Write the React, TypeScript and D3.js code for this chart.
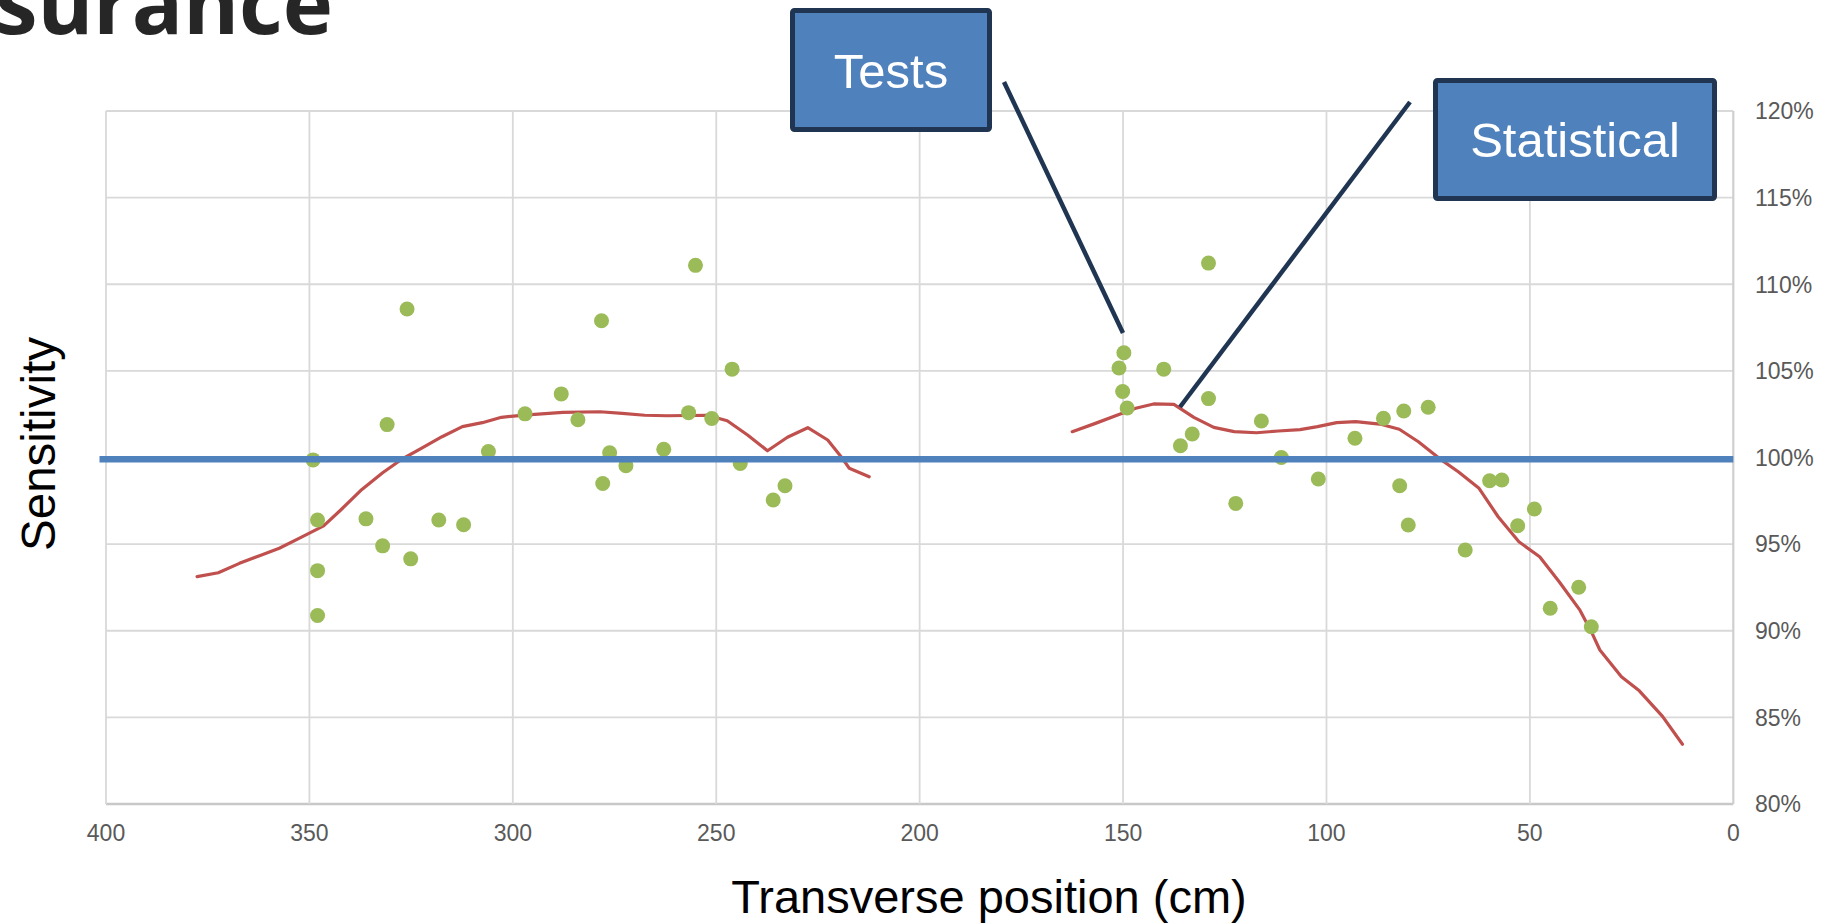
import React from "react";
import * as d3 from "d3";

const W = 1845;
const H = 924;

// Axis ticks
const xTicks = [400, 350, 300, 250, 200, 150, 100, 50, 0];
const yTicks = [80, 85, 90, 95, 100, 105, 110, 115, 120];

// Measured sensitivity points (position cm, sensitivity %)
const pointX = [
  349.1, 348.0, 348.0, 348.0, 336.1, 332.0, 330.9, 326.0, 325.1, 318.2, 312.1, 306.0,
  297.0, 288.1, 284.0, 278.2, 277.9, 276.2, 272.2, 262.9, 256.8, 255.1, 251.1, 246.1,
  244.1, 236.0, 233.1,
  151.0, 149.8, 150.1, 149.0, 140.0, 135.9, 133.0, 129.0, 129.0, 122.3, 116.0, 111.1,
  102.0, 93.0, 86.0, 82.0, 81.0, 79.9, 75.0, 65.9, 59.9, 56.9, 53.0, 48.9, 45.0, 38.0, 34.9,
];
const pointY = [
  99.86, 96.39, 93.47, 90.88, 96.46, 94.9, 101.9, 108.57, 94.15, 96.39, 96.12, 100.34,
  102.52, 103.67, 102.18, 107.89, 98.5, 100.27, 99.52, 100.48, 102.59, 111.09, 102.25, 105.1,
  99.66, 97.55, 98.37,
  105.17, 106.05, 103.81, 102.86, 105.1, 100.68, 101.36, 111.22, 103.4, 97.35, 102.11, 100.0,
  98.76, 101.11, 102.26, 98.37, 102.68, 96.1, 102.9, 94.66, 98.66, 98.7, 96.06, 97.03, 91.3, 92.51, 90.23,
];

// Trend (moving average) – left segment
const trendLeftX = [
  377.6, 372.4, 367.2, 362.1, 357.4, 351.7, 346.5, 342.3, 337.1, 332.0, 327.3, 322.5,
  317.4, 312.4, 307.5, 302.8, 297.2, 287.7, 278.6, 273.1, 267.6, 262.1, 252.2, 247.3,
  242.3, 237.4, 232.5, 227.5, 222.6, 219.3, 217.3, 212.4,
];
const trendLeftY = [
  93.12, 93.35, 93.89, 94.35, 94.76, 95.43, 96.05, 96.97, 98.16, 99.12, 99.9, 100.53,
  101.2, 101.78, 102.01, 102.32, 102.45, 102.61, 102.64, 102.55, 102.44, 102.41, 102.44, 102.12,
  101.3, 100.39, 101.17, 101.72, 101.01, 100.05, 99.38, 98.89,
];

// Trend – right segment
const trendRightX = [
  162.5, 156.8, 150.2, 146.9, 142.5, 137.5, 132.6, 127.7, 122.7, 117.2, 111.8, 106.5,
  102.2, 97.5, 92.8, 86.9, 82.1, 77.4, 72.3, 67.6, 62.5, 57.8, 52.7, 47.6, 42.8, 37.7,
  34.7, 32.8, 27.5, 23.1, 17.4, 12.5,
];
const trendRightY = [
  101.49, 101.97, 102.55, 102.84, 103.09, 103.07, 102.32, 101.74, 101.49, 101.43, 101.53, 101.61,
  101.78, 102.01, 102.07, 101.93, 101.63, 100.91, 99.95, 99.18, 98.22, 96.58, 95.14, 94.27, 92.83, 91.19,
  89.85, 88.89, 87.35, 86.53, 85.06, 83.45,
];

const referenceLevel = 99.9;

const FONT = "'Liberation Sans', Arial, sans-serif";

export default function App() {
  const x = d3.scaleLinear().domain([400, 0]).range([106, 1733.3]);
  const y = d3.scaleLinear().domain([80, 120]).range([804, 111]);

  const mk = (xs: number[], ys: number[]) =>
    d3
      .line<number>()
      .x((v) => x(v))
      .y((_, i) => y(ys[i]))(xs) || "";

  return (
    <div style={{ position: "absolute", left: 0, top: 0, width: W, height: H, overflow: "hidden" }}>
      <style>{`body{margin:0;overflow:hidden}`}</style>
      <svg width={W} height={H} style={{ display: "block", background: "#fff" }}>
        {/* title fragment */}
        <text
          x={333}
          y={34}
          textAnchor="end"
          fontFamily="'Open Sans', sans-serif"
          fontWeight={700}
          fontSize={85}
          fill="#262626"
        >
          surance
        </text>

        {/* gridlines */}
        {yTicks.map((t) => (
          <line
            key={"gy" + t}
            x1={x(400)}
            x2={x(0)}
            y1={y(t)}
            y2={y(t)}
            stroke={t === 80 ? "#C8C8C8" : "#D9D9D9"}
            strokeWidth={t === 80 ? 2.5 : 1.8}
          />
        ))}
        {xTicks.map((t) => (
          <line
            key={"gx" + t}
            x1={x(t)}
            x2={x(t)}
            y1={y(120)}
            y2={y(80)}
            stroke={t === 0 ? "#CFCFCF" : "#D9D9D9"}
            strokeWidth={t === 0 ? 2.2 : 1.8}
          />
        ))}

        {/* tick labels */}
        {xTicks.map((t) => (
          <text
            key={"lx" + t}
            x={x(t)}
            y={841}
            textAnchor="middle"
            fontFamily={FONT}
            fontSize={23}
            fill="#595959"
          >
            {t}
          </text>
        ))}
        {yTicks.map((t) => (
          <text
            key={"ly" + t}
            x={1755}
            y={y(t) + 8.3}
            textAnchor="start"
            fontFamily={FONT}
            fontSize={23}
            fill="#595959"
          >
            {t + "%"}
          </text>
        ))}

        {/* trend lines */}
        <path d={mk(trendLeftX, trendLeftY)} fill="none" stroke="#C0504D" strokeWidth={3.2} strokeLinejoin="round" strokeLinecap="round" />
        <path d={mk(trendRightX, trendRightY)} fill="none" stroke="#C0504D" strokeWidth={3.2} strokeLinejoin="round" strokeLinecap="round" />

        {/* points */}
        {pointX.map((px, i) => (
          <circle key={"p" + i} cx={x(px)} cy={y(pointY[i])} r={7.5} fill="#9BBB59" />
        ))}

        {/* reference line */}
        <line x1={99.5} x2={x(0)} y1={y(referenceLevel)} y2={y(referenceLevel)} stroke="#4F81BD" strokeWidth={6.5} />

        {/* axis titles */}
        <text x={989} y={913} textAnchor="middle" fontFamily={FONT} fontSize={47} fill="#000">
          Transverse position (cm)
        </text>
        <text
          transform="translate(55,444) rotate(-90)"
          textAnchor="middle"
          fontFamily={FONT}
          fontSize={47.5}
          fill="#000"
        >
          Sensitivity
        </text>

        {/* callouts */}
        <line x1={1004} y1={82} x2={1123} y2={333} stroke="#1F3552" strokeWidth={4.5} />
        <line x1={1410} y1={102} x2={1180} y2={407} stroke="#1F3552" strokeWidth={4.5} />

        <rect x={792.5} y={10.5} width={197} height={119} rx={2} fill="#4F81BD" stroke="#1F3552" strokeWidth={5} />
        <text x={891} y={88} textAnchor="middle" fontFamily={FONT} fontSize={49} fill="#fff">
          Tests
        </text>

        <rect x={1435.5} y={80.5} width={279} height={118} rx={2} fill="#4F81BD" stroke="#1F3552" strokeWidth={5} />
        <text x={1575} y={157} textAnchor="middle" fontFamily={FONT} fontSize={49} fill="#fff">
          Statistical
        </text>
      </svg>
    </div>
  );
}
